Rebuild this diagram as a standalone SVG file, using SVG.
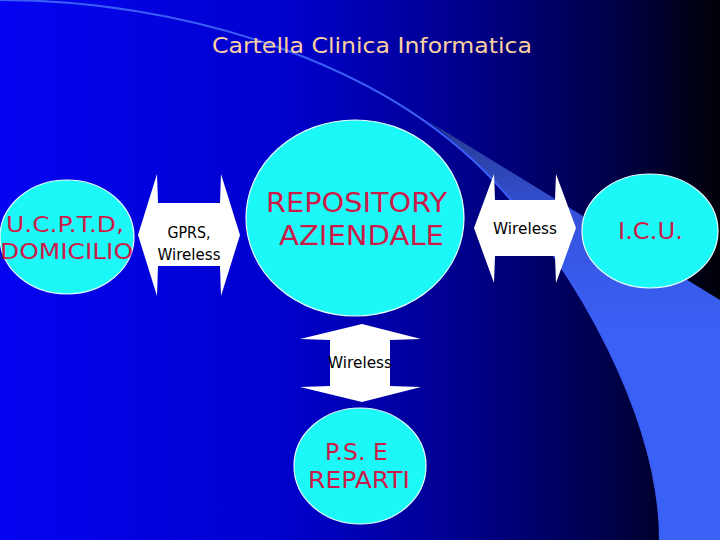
<svg xmlns="http://www.w3.org/2000/svg" width="720" height="540" viewBox="0 0 720 540">
<defs>
<linearGradient id="bg" x1="0" y1="0" x2="1" y2="0">
<stop offset="0" stop-color="#0404f2"/>
<stop offset="0.4" stop-color="#0000cc"/>
<stop offset="0.65" stop-color="#00008a"/>
<stop offset="0.85" stop-color="#000048"/>
<stop offset="1" stop-color="#000008"/>
</linearGradient>
<linearGradient id="band" gradientUnits="userSpaceOnUse" x1="0" y1="120" x2="0" y2="540">
<stop offset="0" stop-color="#26398e"/>
<stop offset="0.25" stop-color="#3654e0"/>
<stop offset="0.5" stop-color="#3a60f4"/>
<stop offset="1" stop-color="#3a62f6"/>
</linearGradient>
<style>
.node{fill:#1cf8f8;stroke:#e8ffff;stroke-width:1.2}
.arrow{fill:#ffffff;stroke:none}
.red{font-family:"DejaVu Sans","Liberation Sans",sans-serif;fill:#cc1a48;text-anchor:middle}
.blk{font-family:"DejaVu Sans","Liberation Sans",sans-serif;fill:#000000;font-size:15px;text-anchor:middle}
.title{font-family:"DejaVu Sans","Liberation Sans",sans-serif;fill:#fcd0a0;font-size:21px;text-anchor:middle}
</style>
</defs>
<rect x="0" y="0" width="720" height="540" fill="url(#bg)"/>
<g id="background-curves">
<path d="M428,121 L720,300 L720,540 L660,540 C660,420 578,270 493,180 C475,162 452,138 428,121 Z" fill="url(#band)"/>
<path d="M0,0 C180,0 380,60 493,180 C578,270 660,420 660,540" fill="none" stroke="#3a5ef5" stroke-width="2"/>
</g>
<text class="title" x="372" y="53" textLength="320" lengthAdjust="spacingAndGlyphs">Cartella Clinica Informatica</text>
<g id="connectors">
<g id="arrow-left">
<polygon class="arrow" points="138,235 157,174 158,203 220,203 221,174 240,235 221,296 220,266 158,266 157,296"/>
<text class="blk" x="189" y="238" textLength="43" lengthAdjust="spacingAndGlyphs">GPRS,</text>
<text class="blk" x="189" y="260" textLength="63" lengthAdjust="spacingAndGlyphs">Wireless</text>
</g>
<g id="arrow-right">
<polygon class="arrow" points="474,228 494,174 495,200 555,200 556,174 576,228 556,283 555,256 495,256 494,283"/>
<text class="blk" x="525" y="234" textLength="64" lengthAdjust="spacingAndGlyphs">Wireless</text>
</g>
<g id="arrow-bottom">
<polygon class="arrow" points="362,324 421,339 390,340 390,386 421,387 362,402 300,387 330,386 330,340 300,339"/>
<text class="blk" x="360" y="368" textLength="64" lengthAdjust="spacingAndGlyphs">Wireless</text>
</g>
</g>
<g id="node-ucptd">
<ellipse class="node" cx="67" cy="237" rx="67" ry="57"/>
<text class="red" x="65" y="232" font-size="22" textLength="118" lengthAdjust="spacingAndGlyphs">U.C.P.T.D,</text>
<text class="red" x="66.5" y="259" font-size="22" textLength="133" lengthAdjust="spacingAndGlyphs">DOMICILIO</text>
</g>
<g id="node-repository">
<ellipse class="node" cx="355" cy="218" rx="109" ry="98"/>
<text class="red" x="356.5" y="212" font-size="27" textLength="181" lengthAdjust="spacingAndGlyphs">REPOSITORY</text>
<text class="red" x="361.5" y="245" font-size="27" textLength="165" lengthAdjust="spacingAndGlyphs">AZIENDALE</text>
</g>
<g id="node-icu">
<ellipse class="node" cx="650" cy="231" rx="68" ry="57"/>
<text class="red" x="650.5" y="239" font-size="23" textLength="65" lengthAdjust="spacingAndGlyphs">I.C.U.</text>
</g>
<g id="node-pse">
<ellipse class="node" cx="360" cy="466" rx="66" ry="58"/>
<text class="red" x="356.5" y="460" font-size="23" textLength="63" lengthAdjust="spacingAndGlyphs">P.S. E</text>
<text class="red" x="359" y="488" font-size="23" textLength="102" lengthAdjust="spacingAndGlyphs">REPARTI</text>
</g>
</svg>
